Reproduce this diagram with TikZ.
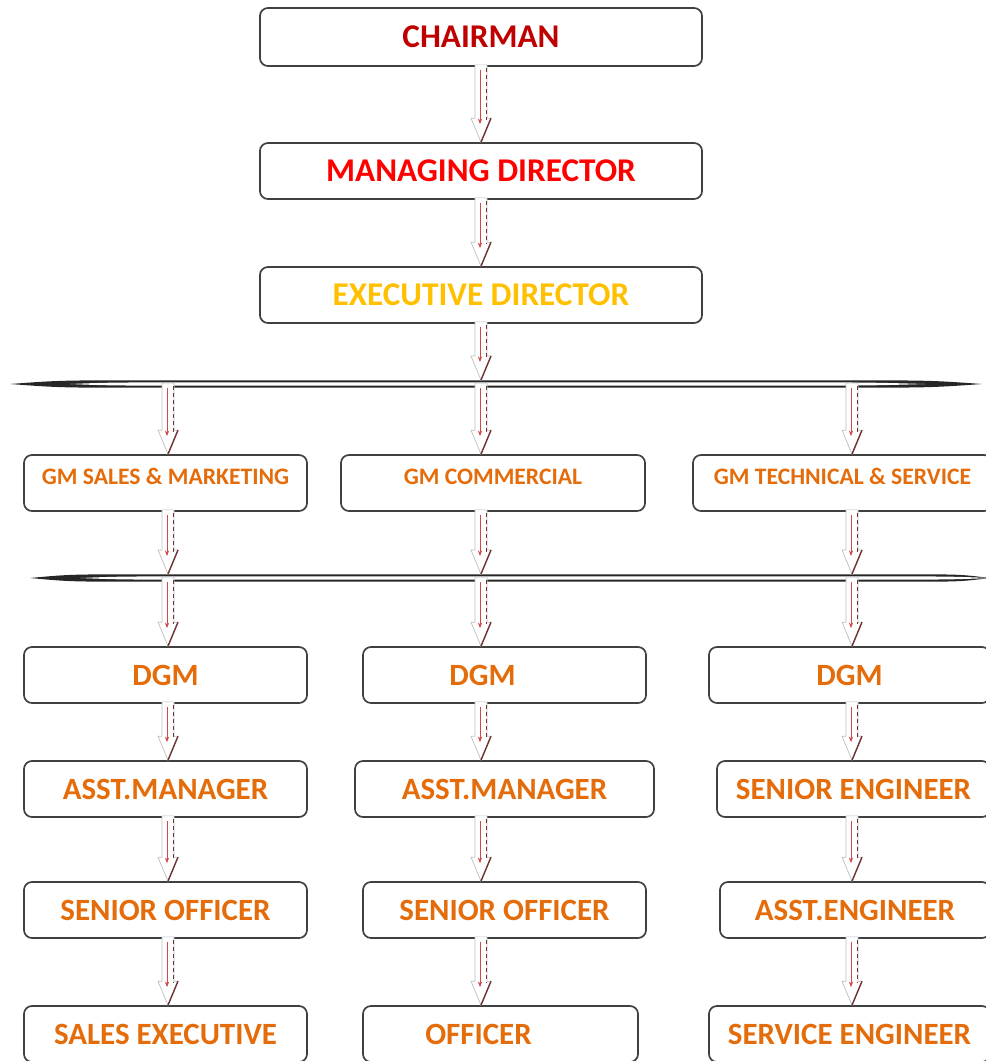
\documentclass[tikz,border=0pt]{standalone}
\usepackage{fontspec}
\setmainfont{Carlito}
\usetikzlibrary{calc,arrows.meta}
\definecolor{chaircol}{HTML}{C00000}
\definecolor{mdcol}{HTML}{FF0000}
\definecolor{edcol}{HTML}{FFC000}
\definecolor{staffcol}{HTML}{E46C0A}
\definecolor{flowred}{HTML}{D04848}
\definecolor{flowdark}{HTML}{6E3434}
\pgfkeys{tikz/myorgbox/.style={draw=black!75, line width=1.2pt, rounded corners=0.2cm,
                                  fill=white, minimum height=1.4cm, inner sep=0pt,
                                  font=\bfseries\fontsize{22}{24}\selectfont, text=staffcol}}
\pgfkeys{tikz/mytopbox/.style={myorgbox, minimum width=11.05cm,
                                  font=\bfseries\fontsize{23.6}{25}\selectfont}}
\pgfkeys{tikz/mygmbox/.style={myorgbox, font=\bfseries\fontsize{16.8}{18}\selectfont,
                                  text height=0.38cm, text depth=0.33cm}}
% hollow block arrow with the thin red arrow inside
\newcommand{\flowto}[2]{%
    \path[fill=white, draw=black!25, line width=0.5pt] ($(#1)+(-6,-2)$) -- ($(#2)+(-6,-24)$) -- ($(#2)+(-10,-24)$) -- (#2)
        -- ($(#2)+(10,-24)$) -- ($(#2)+(6,-24)$) -- ($(#1)+(6,-2)$) -- cycle;
    \draw[flowdark, densely dashed, line width=0.6pt] ($(#1)+(5,1)$) -- ($(#2)+(5,-22)$);
    \draw[flowdark, line width=1pt] ($(#2)+(10,-24)$) -- (#2);
    \draw[flowred, line width=0.5pt, -{Stealth[length=4pt,width=3pt]}] ($(#1)+(-1,3)$) -- ($(#2)+(-1,-18)$);
}

\begin{document}
\begin{tikzpicture}[x=0.025cm, y=-0.025cm]
    \useasboundingbox (0,0) rectangle (986,1061);
    \coordinate (cL) at (168,0);
    \coordinate (cM) at (481,0);
    \coordinate (cR) at (852,0);
    \coordinate (b1t) at (0,380);
    \coordinate (b1b) at (0,385);
    \coordinate (b2t) at (0,574);
    \coordinate (b2b) at (0,579);

    % the two split bars
    \fill[black!85] (10,384) .. controls (60,380.3) .. (150,380.3) -- (830,380.3) .. controls (930,380.3) .. (982,384)
        .. controls (930,387.7) .. (830,387.7) -- (150,387.7) .. controls (60,387.7) .. (10,384) -- cycle;
    \fill[white] (70,384) .. controls (110,382.4) .. (200,382.4) -- (780,382.4) .. controls (870,382.4) .. (925,384)
        .. controls (870,385.6) .. (780,385.6) -- (200,385.6) .. controls (110,385.6) .. (70,384) -- cycle;
    \fill[black!85] (30,578) .. controls (70,574.3) .. (150,574.3) -- (900,574.3) .. controls (960,574.3) .. (990,578)
        .. controls (960,581.7) .. (900,581.7) -- (150,581.7) .. controls (70,581.7) .. (30,578) -- cycle;
    \fill[white] (80,578) .. controls (120,576.4) .. (200,576.4) -- (880,576.4) .. controls (950,576.4) .. (990,578)
        .. controls (950,579.6) .. (880,579.6) -- (200,579.6) .. controls (120,579.6) .. (80,578) -- cycle;

    \node[mytopbox, minimum height=1.45cm, text=chaircol] (chair) at (481,37) {CHAIRMAN};
    \node[mytopbox, text=mdcol] (md) at (481,171) {MANAGING DIRECTOR};
    \node[mytopbox, text=edcol] (ed) at (481,295) {EXECUTIVE DIRECTOR};

    \node[mygmbox, minimum width=7.075cm] (gmsm) at (165.5,483) {GM SALES \& MARKETING};
    \node[mygmbox, minimum width=7.6cm] (gmcom) at (493,483) {GM COMMERCIAL};
    \node[mygmbox, minimum width=7.475cm] (gmts) at (842.5,483) {GM TECHNICAL \& SERVICE};

    \node[myorgbox, minimum width=7.075cm] (dgms) at (165.5,675) {DGM};
    \node[myorgbox, minimum width=7.075cm] (dgmc) at (504.5,675) {\hspace*{-1.1cm}DGM};
    \node[myorgbox, minimum width=7.025cm] (dgmt) at (849.5,675) {DGM};

    \node[myorgbox, minimum width=7.075cm] (ams) at (165.5,789) {ASST.MANAGER};
    \node[myorgbox, minimum width=7.475cm] (amc) at (504.5,789) {ASST.MANAGER};
    \node[myorgbox, minimum width=6.825cm] (seng) at (853.5,789) {SENIOR ENGINEER};

    \node[myorgbox, minimum width=7.075cm] (sos) at (165.5,910) {SENIOR OFFICER};
    \node[myorgbox, minimum width=7.075cm] (soc) at (504.5,910) {SENIOR OFFICER};
    \node[myorgbox, minimum width=6.75cm] (aeng) at (855,910) {ASST.ENGINEER};

    \node[myorgbox, minimum width=7.075cm] (sexec) at (165.5,1034) {SALES EXECUTIVE};
    \node[myorgbox, minimum width=6.875cm] (off) at (500.5,1034) {\hspace*{-1.1cm}OFFICER};
    \node[myorgbox, minimum width=7.025cm] (serv) at (849.5,1034) {SERVICE ENGINEER};

    % top of the chart
    \flowto{chair.south}{md.north}
    \flowto{md.south}{ed.north}
    \flowto{ed.south}{b1t -| cM}

    % sales column
    \flowto{b1b -| cL}{gmsm.north -| cL}
    \flowto{gmsm.south -| cL}{b2t -| cL}
    \flowto{b2b -| cL}{dgms.north -| cL}
    \flowto{dgms.south -| cL}{ams.north -| cL}
    \flowto{ams.south -| cL}{sos.north -| cL}
    \flowto{sos.south -| cL}{sexec.north -| cL}

    % commercial column
    \flowto{b1b -| cM}{gmcom.north -| cM}
    \flowto{gmcom.south -| cM}{b2t -| cM}
    \flowto{b2b -| cM}{dgmc.north -| cM}
    \flowto{dgmc.south -| cM}{amc.north -| cM}
    \flowto{amc.south -| cM}{soc.north -| cM}
    \flowto{soc.south -| cM}{off.north -| cM}

    % technical column
    \flowto{b1b -| cR}{gmts.north -| cR}
    \flowto{gmts.south -| cR}{b2t -| cR}
    \flowto{b2b -| cR}{dgmt.north -| cR}
    \flowto{dgmt.south -| cR}{seng.north -| cR}
    \flowto{seng.south -| cR}{aeng.north -| cR}
    \flowto{aeng.south -| cR}{serv.north -| cR}
\end{tikzpicture}
\end{document}
